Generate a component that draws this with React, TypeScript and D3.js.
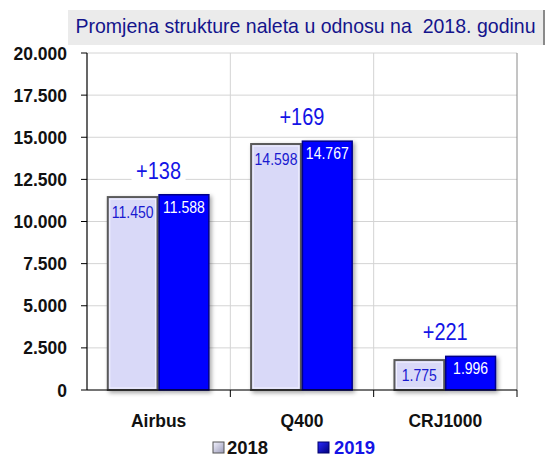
import React from "react";
import * as d3 from "d3";

const categories = ["Airbus", "Q400", "CRJ1000"];
const seriesNames = ["2018", "2019"];
const values2018 = [11450, 14598, 1775];
const values2019 = [11588, 14767, 1996];
const yTicks = [0, 2500, 5000, 7500, 10000, 12500, 15000, 17500, 20000];
const titleText = "Promjena strukture naleta u odnosu na  2018. godinu";

const W = 546;
const H = 457;
const FONT = "'Liberation Sans', Arial, sans-serif";

const plot = { left: 87, right: 517, top: 53, bottom: 390 };

const fmt = (v: number) => {
  const s = String(Math.round(v));
  return s.replace(/\B(?=(\d{3})+(?!\d))/g, ".");
};

type TProps = {
  x: number;
  y: number;
  sx?: number;
  anchor?: "start" | "middle" | "end";
  size: number;
  weight?: string;
  fill: string;
  children: React.ReactNode;
};

function T({ x, y, sx = 1, anchor = "middle", size, weight = "normal", fill, children }: TProps) {
  return (
    <text
      transform={`translate(${x},${y}) scale(${sx},1)`}
      textAnchor={anchor}
      fontSize={size}
      fontWeight={weight}
      fill={fill}
      style={{ whiteSpace: "pre" }}
    >
      {children}
    </text>
  );
}

export default function App() {
  const x0 = d3.scaleBand<string>().domain(categories).range([plot.left, plot.right]).padding(0);
  const bw0 = x0.bandwidth();
  const x1 = d3
    .scaleBand<string>()
    .domain(seriesNames)
    .range([bw0 * 0.145, bw0 * 0.85])
    .paddingInner(0.03);
  const y = d3.scaleLinear().domain([0, 20000]).range([plot.bottom, plot.top]);

  const data = categories.map((c, i) => ({
    cat: c,
    v18: values2018[i],
    v19: values2019[i],
    diff: values2019[i] - values2018[i],
  }));

  return (
    <svg
      width={W}
      height={H}
      style={{ position: "absolute", left: 0, top: 0, background: "#fff" }}
      fontFamily={FONT}
    >
      <defs>
        <filter id="shadow" x="-20%" y="-20%" width="150%" height="150%">
          <feDropShadow dx="2" dy="2" stdDeviation="2" floodColor="#000" floodOpacity="0.35" />
        </filter>
        <linearGradient id="leg18" x1="0" y1="0" x2="1" y2="1">
          <stop offset="0" stopColor="#f4f4ff" />
          <stop offset="1" stopColor="#9a9ab8" />
        </linearGradient>
        <linearGradient id="leg19" x1="0" y1="0" x2="1" y2="1">
          <stop offset="0" stopColor="#2a2aff" />
          <stop offset="1" stopColor="#00007a" />
        </linearGradient>
      </defs>

      {/* title box */}
      <rect x={68} y={10} width={476} height={35} fill="#EBEBEB" />
      <line x1={544} y1={10} x2={544} y2={45} stroke="#8a8a8a" strokeWidth={2} />
      <T x={305.5} y={33} sx={0.93} size={21} fill="#14148C">
        {titleText}
      </T>

      {/* grid */}
      {yTicks.map((t) => (
        <line key={"g" + t} x1={plot.left} x2={plot.right} y1={y(t)} y2={y(t)} stroke="#D4D4D4" strokeWidth={1} />
      ))}
      {categories.map((c) => (
        <line
          key={"vg" + c}
          x1={(x0(c) as number) + bw0}
          x2={(x0(c) as number) + bw0}
          y1={plot.top}
          y2={plot.bottom}
          stroke={c === categories[categories.length - 1] ? "#8a8a8a" : "#D4D4D4"}
          strokeWidth={1}
        />
      ))}

      {/* bars */}
      {data.map((d) => {
        const gx = x0(d.cat) as number;
        const xa = gx + (x1("2018") as number);
        const xb = gx + (x1("2019") as number);
        const w = x1.bandwidth();
        return (
          <g key={d.cat}>
            <rect
              x={xa}
              y={y(d.v18)}
              width={w}
              height={y(0) - y(d.v18)}
              fill="#D9D9F8"
              stroke="#5a5a5a"
              strokeWidth={2}
              filter="url(#shadow)"
            />
            <rect
              x={xa + 2}
              y={y(d.v18) + 2}
              width={w - 4}
              height={Math.max(0, y(0) - y(d.v18) - 4)}
              fill="none"
              stroke="#f2f2ff"
              strokeWidth={1}
            />
            <rect
              x={xb}
              y={y(d.v19)}
              width={w}
              height={y(0) - y(d.v19)}
              fill="#0000FF"
              stroke="#00008a"
              strokeWidth={1.5}
              filter="url(#shadow)"
            />
            <T x={xa + w / 2} y={y(d.v18) + 21} sx={0.85} size={16.5} fill="#1a1ad0">
              {fmt(d.v18)}
            </T>
            <T x={xb + w / 2} y={y(d.v19) + 18} sx={0.85} size={16.5} fill="#ffffff">
              {fmt(d.v19)}
            </T>
          </g>
        );
      })}

      {/* diff labels */}
      {data.map((d) => {
        const cx = (x0(d.cat) as number) + (x1("2018") as number) + x1.bandwidth() + 1;
        const top = y(Math.max(d.v18, d.v19));
        const base = top - 16;
        return (
          <g key={"diff" + d.cat}>
            <rect x={cx - 27} y={base - 20} width={54} height={24} fill="#fff" />
            <T x={cx} y={base} sx={0.85} size={23.5} fill="#1414E6">
              {(d.diff >= 0 ? "+" : "") + d.diff}
            </T>
          </g>
        );
      })}

      {/* axes */}
      <line x1={plot.left} x2={plot.left} y1={plot.top} y2={plot.bottom} stroke="#000" strokeWidth={1.2} />
      <line x1={plot.left} x2={plot.right} y1={plot.bottom} y2={plot.bottom} stroke="#000" strokeWidth={1.2} />
      {yTicks.map((t) => (
        <g key={"yt" + t}>
          <line x1={plot.left - 6} x2={plot.left} y1={y(t)} y2={y(t)} stroke="#000" strokeWidth={1} />
          <T x={67} y={y(t) + 6.5} anchor="end" size={17.5} weight="bold" fill="#111">
            {fmt(t)}
          </T>
        </g>
      ))}
      {categories.map((c) => (
        <g key={"xt" + c}>
          <line
            x1={(x0(c) as number) + bw0}
            x2={(x0(c) as number) + bw0}
            y1={plot.bottom}
            y2={plot.bottom + 7}
            stroke="#000"
            strokeWidth={1}
          />
          <T x={(x0(c) as number) + bw0 / 2} y={427} sx={0.92} size={19} weight="bold" fill="#111">
            {c}
          </T>
        </g>
      ))}

      {/* legend */}
      <rect x={213} y={442} width={11} height={11} fill="url(#leg18)" stroke="#555" strokeWidth={1} />
      <T x={227} y={454} anchor="start" size={18.5} weight="bold" fill="#111">
        {seriesNames[0]}
      </T>
      <rect x={318} y={442} width={11} height={11} fill="url(#leg19)" stroke="#00006a" strokeWidth={1} />
      <T x={334} y={454} anchor="start" size={18.5} weight="bold" fill="#1414E6">
        {seriesNames[1]}
      </T>
    </svg>
  );
}
